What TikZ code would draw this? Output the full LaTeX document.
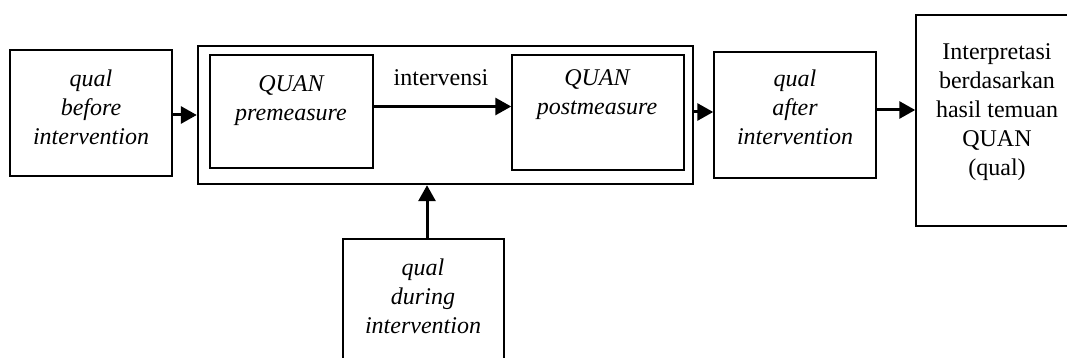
\documentclass[tikz,border=0pt]{standalone}
\usepackage{fontspec}
\setmainfont{Liberation Serif}
\usetikzlibrary{arrows.meta}
\begin{document}
\begin{tikzpicture}[x=0.5pt,y=-0.5pt,
  box/.style={draw,line width=0.75pt,rectangle,inner sep=0pt},
  outerbox/.style={draw,line width=1.2pt,rectangle,inner sep=0pt},
  txt/.style={align=center,inner sep=0pt,font=\fontsize{12}{14.5}\selectfont},
  flow/.style={line width=1.5pt,-{Triangle[length=8pt,width=8.5pt]}}]
\useasboundingbox (0,0) rectangle (1067,358);

% boxes
\node[box,minimum width=81pt,minimum height=63pt] (before) at (91,113) {};
\node[outerbox,minimum width=247.5pt,minimum height=69pt] (outer) at (445.5,115) {};
\node[box,minimum width=81.5pt,minimum height=56.5pt] (pre) at (291.5,111.5) {};
\node[box,minimum width=86pt,minimum height=57.5pt] (post) at (598,112.5) {};
\node[box,minimum width=81pt,minimum height=63pt] (after) at (795,115) {};
\node[box,minimum width=94pt,minimum height=105.5pt] (final) at (1010,120.5) {};
\node[box,minimum width=80.5pt,minimum height=70pt] (during) at (423.5,309) {};

% texts
\node[txt] (tbefore) at (91,107) {\itshape qual\\\itshape before\\\itshape intervention};
\node[txt] (tpre) at (291,101) {\itshape QUAN\\\itshape premeasure};
\node[txt] (tpost) at (597,95) {\itshape QUAN\\\itshape postmeasure};
\node[txt] (tafter) at (795,107) {\itshape qual\\\itshape after\\\itshape intervention};
\node[txt] (tfinal) at (997,112) {Interpretasi\\berdasarkan\\hasil temuan\\QUAN\\(qual)};
\node[txt] (tduring) at (423,296) {\itshape qual\\\itshape during\\\itshape intervention};
\node[txt] (tinterv) at (441,78) {intervensi};

% connectors
\draw[flow] (before.east |- outer.west) -- (outer.west);
\draw[flow] ([yshift=2.5pt]pre.east) -- ([yshift=2.5pt]pre.east -| post.west);
\draw[flow] ([yshift=1.5pt]outer.east) -- ([yshift=1.5pt]outer.east -| after.west);
\draw[flow] ([yshift=2.5pt]after.east) -- ([yshift=2.5pt]after.east -| final.west);
\draw[flow] ([xshift=1.75pt]during.north) -- ([xshift=1.75pt]during.north |- outer.south);
\end{tikzpicture}
\end{document}
